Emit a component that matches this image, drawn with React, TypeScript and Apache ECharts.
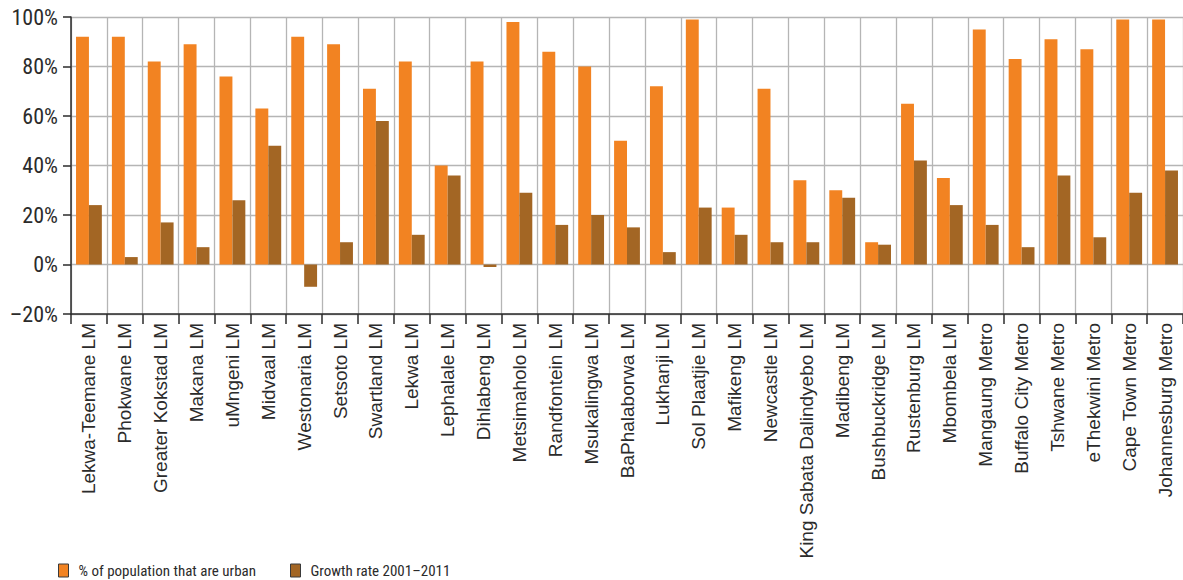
import React, { useEffect, useRef } from "react";
import * as echarts from "echarts";

const categories = [
  "Lekwa-Teemane LM", "Phokwane LM", "Greater Kokstad LM", "Makana LM", "uMngeni LM",
  "Midvaal LM", "Westonaria LM", "Setsoto LM", "Swartland LM", "Lekwa LM",
  "Lephalale LM", "Dihlabeng LM", "Metsimaholo LM", "Randfontein LM", "Msukalingwa LM",
  "BaPhalaborwa LM", "Lukhanji LM", "Sol Plaatjie LM", "Mafikeng LM", "Newcastle LM",
  "King Sabata Dalindyebo LM", "Madibeng LM", "Bushbuckridge LM", "Rustenburg LM", "Mbombela LM",
  "Mangaung Metro", "Buffalo City Metro", "Tshwane Metro", "eThekwini Metro", "Cape Town Metro",
  "Johannesburg Metro",
];

const urbanShare = [
  92, 92, 82, 89, 76, 63, 92, 89, 71, 82,
  40, 82, 98, 86, 80, 50, 72, 99, 23, 71,
  34, 30, 9, 65, 35, 95, 83, 91, 87, 99,
  99,
];

const growthRate = [
  24, 3, 17, 7, 26, 48, -9, 9, 58, 12,
  36, -1, 29, 16, 20, 15, 5, 23, 12, 9,
  9, 27, 8, 42, 24, 16, 7, 36, 11, 29,
  38,
];

const seriesNames = ["% of population that are urban", "Growth rate 2001–2011"];

const ORANGE = "#F28322";
const BROWN = "#A36624";
const GRID = "#b5b5b5";
const DARK = "#2b2b2b";
const NARROW = "'Liberation Sans Narrow', 'Noto Sans Condensed', 'Roboto Condensed', 'DejaVu Sans Condensed', sans-serif";

export default function App() {
  const ref = useRef<HTMLDivElement>(null);

  useEffect(() => {
    if (!ref.current) return;
    const chart = echarts.init(ref.current, undefined, { renderer: "svg" });
    const legendCommon = {
      orient: "horizontal",
      icon: "rect",
      itemWidth: 10,
      itemHeight: 13,
      padding: 0,
      top: 563,
      textStyle: { fontFamily: NARROW, fontSize: 15, color: DARK, padding: [0, 0, 0, 5] },
    };
    const legendItem = (name: string) => ({
      name,
      itemStyle: { borderColor: "#3a3a3a", borderWidth: 1 },
    });
    chart.setOption({
      animation: false,
      backgroundColor: "#ffffff",
      grid: { left: 71, right: 0, top: 17, bottom: 266, containLabel: false },
      legend: [
        { ...legendCommon, left: 58, data: [legendItem(seriesNames[0])] },
        { ...legendCommon, left: 290, data: [legendItem(seriesNames[1])] },
      ],
      xAxis: {
        type: "category",
        data: categories,
        boundaryGap: true,
        axisLine: { show: true, onZero: false, lineStyle: { color: DARK, width: 1.5 } },
        axisTick: { show: true, length: 10, alignWithLabel: false, interval: 0, lineStyle: { color: DARK, width: 1.5 } },
        splitLine: { show: true, interval: 0, lineStyle: { color: GRID, width: 1.3 } },
        axisLabel: {
          rotate: 90,
          interval: 0,
          margin: 9,
          fontFamily: "'Liberation Sans', Arial, sans-serif",
          fontSize: 19,
          color: DARK,
        },
      },
      yAxis: {
        type: "value",
        min: -20,
        max: 100,
        interval: 20,
        axisLine: { show: true, lineStyle: { color: DARK, width: 1.5 } },
        axisTick: { show: true, length: 8, lineStyle: { color: DARK, width: 1.5 } },
        splitLine: { show: true, lineStyle: { color: GRID, width: 1.3 } },
        axisLabel: {
          margin: 13,
          fontFamily: NARROW,
          fontSize: 22,
          color: DARK,
          formatter: (v: number) => (v < 0 ? "–" + Math.abs(v) : String(v)) + "%",
        },
      },
      series: [
        {
          name: seriesNames[0],
          type: "bar",
          data: urbanShare,
          barGap: "0%",
          barCategoryGap: "28%",
          itemStyle: { color: ORANGE },
        },
        {
          name: seriesNames[1],
          type: "bar",
          data: growthRate,
          barGap: "0%",
          barCategoryGap: "28%",
          itemStyle: { color: BROWN },
        },
      ],
    });
    return () => chart.dispose();
  }, []);

  return (
    <div
      ref={ref}
      style={{ position: "fixed", left: 0, top: 0, width: 1183, height: 580, background: "#fff" }}
    />
  );
}
